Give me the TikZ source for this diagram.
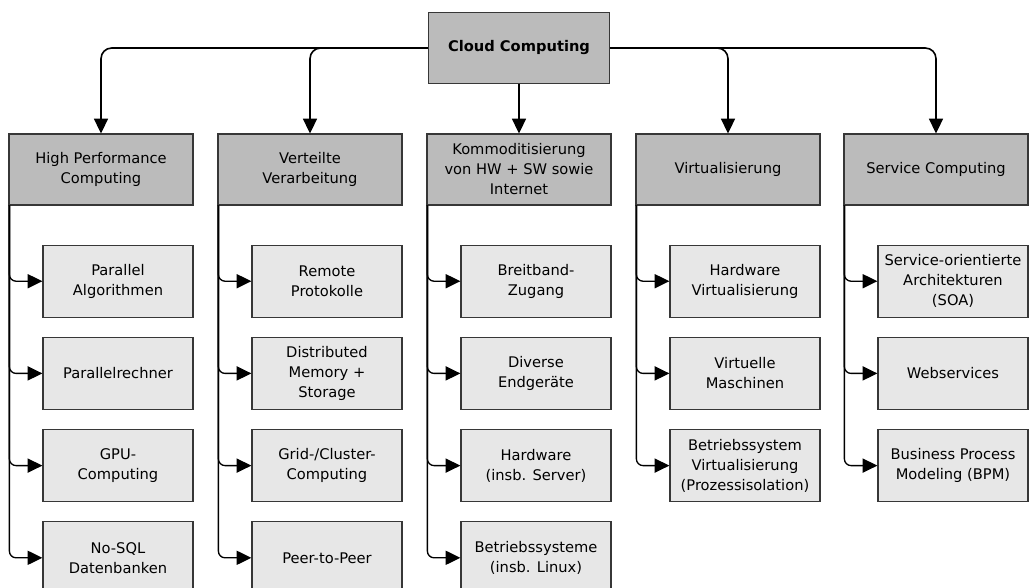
\documentclass[tikz,border=0pt]{standalone}
\usepackage{fontspec}
\setmainfont{DejaVu Sans}
\usepackage{xcolor}
\usepackage{tikz}
\usetikzlibrary{arrows.meta,positioning}
\definecolor{rim}{RGB}{55,55,55}
\definecolor{topgray}{RGB}{187,187,187}
\definecolor{subgray}{RGB}{231,231,231}
\tikzset{
  rootbox/.style={draw=rim, line width=0.9pt, fill=topgray, align=center,
    minimum width=135.75pt, minimum height=53.25pt, font=\fontsize{11}{15}\selectfont\bfseries},
  catbox/.style={draw=rim, line width=0.9pt, fill=topgray, align=center,
    minimum width=138pt, minimum height=53.25pt, font=\fontsize{11}{15}\selectfont},
  subbox/.style={draw=rim, line width=0.9pt, fill=subgray, align=center,
    minimum width=112.5pt, minimum height=54pt, font=\fontsize{11}{15}\selectfont},
  % Verbindungen
  branch/.style={draw=black, line width=1.2pt, rounded corners=8pt,
    -{Triangle[length=11pt,width=10.5pt]}},
  leaf/.style={draw=black, line width=1pt, rounded corners=5pt,
    -{Triangle[length=11pt,width=10.5pt]}}
}
\begin{document}
\begin{tikzpicture}[x=0.75pt, y=-0.75pt]
  \useasboundingbox (0,0) rectangle (1033,587);
  \node[rootbox] (root) at (519,48) {Cloud Computing};
  % Kategorien
  \node[catbox] (hpc) at (101,169.5) {High Performance\\Computing};
  \node[catbox] (vv) at (310,169.5) {Verteilte\\Verarbeitung};
  \node[catbox] (kom) at (519,169.5) {Kommoditisierung\\von HW + SW sowie\\Internet};
  \node[catbox] (virt) at (728,169.5) {Virtualisierung};
  \node[catbox] (svc) at (936,169.5) {Service Computing};
  \draw[branch] (root.west) -| (hpc.north);
  \draw[branch] (root.west) -| (vv.north);
  \draw[branch] (root.south) -- (kom.north);
  \draw[branch] (root.east) -| (virt.north);
  \draw[branch] (root.east) -| (svc.north);
  % High Performance Computing
  \node[subbox, below left=29.25pt and 0pt of hpc.south east] (hpc1) {Parallel\\Algorithmen};
  \node[subbox, below=14.25pt of hpc1] (hpc2) {Parallelrechner};
  \node[subbox, below=14.25pt of hpc2] (hpc3) {GPU-\\Computing};
  \node[subbox, below=14.25pt of hpc3] (hpc4) {No-SQL\\Datenbanken};
  % Verteilte Verarbeitung
  \node[subbox, below left=29.25pt and 0pt of vv.south east] (vv1) {Remote\\Protokolle};
  \node[subbox, below=14.25pt of vv1] (vv2) {Distributed\\Memory +\\Storage};
  \node[subbox, below=14.25pt of vv2] (vv3) {Grid-/Cluster-\\Computing};
  \node[subbox, below=14.25pt of vv3] (vv4) {Peer-to-Peer};
  % Kommoditisierung
  \node[subbox, below left=29.25pt and 0pt of kom.south east] (kom1) {Breitband-\\Zugang};
  \node[subbox, below=14.25pt of kom1] (kom2) {Diverse\\Endgeräte};
  \node[subbox, below=14.25pt of kom2] (kom3) {Hardware\\(insb. Server)};
  \node[subbox, below=14.25pt of kom3] (kom4) {Betriebssysteme\\(insb. Linux)};
  % Virtualisierung
  \node[subbox, below left=29.25pt and 0pt of virt.south east] (virt1) {Hardware\\Virtualisierung};
  \node[subbox, below=14.25pt of virt1] (virt2) {Virtuelle\\Maschinen};
  \node[subbox, below=14.25pt of virt2] (virt3) {Betriebssystem\\Virtualisierung\\(Prozessisolation)};
  % Service Computing
  \node[subbox, below left=29.25pt and 0pt of svc.south east] (svc1) {Service-orientierte\\Architekturen\\(SOA)};
  \node[subbox, below=14.25pt of svc1] (svc2) {Webservices};
  \node[subbox, below=14.25pt of svc2] (svc3) {Business Process\\Modeling (BPM)};
  % Zweige
  \draw[leaf] ([xshift=0.75pt]hpc.south west) |- (hpc1.west);
  \draw[leaf] ([xshift=0.75pt]hpc.south west) |- (hpc2.west);
  \draw[leaf] ([xshift=0.75pt]hpc.south west) |- (hpc3.west);
  \draw[leaf] ([xshift=0.75pt]hpc.south west) |- (hpc4.west);
  \draw[leaf] ([xshift=0.75pt]vv.south west) |- (vv1.west);
  \draw[leaf] ([xshift=0.75pt]vv.south west) |- (vv2.west);
  \draw[leaf] ([xshift=0.75pt]vv.south west) |- (vv3.west);
  \draw[leaf] ([xshift=0.75pt]vv.south west) |- (vv4.west);
  \draw[leaf] ([xshift=0.75pt]kom.south west) |- (kom1.west);
  \draw[leaf] ([xshift=0.75pt]kom.south west) |- (kom2.west);
  \draw[leaf] ([xshift=0.75pt]kom.south west) |- (kom3.west);
  \draw[leaf] ([xshift=0.75pt]kom.south west) |- (kom4.west);
  \draw[leaf] ([xshift=0.75pt]virt.south west) |- (virt1.west);
  \draw[leaf] ([xshift=0.75pt]virt.south west) |- (virt2.west);
  \draw[leaf] ([xshift=0.75pt]virt.south west) |- (virt3.west);
  \draw[leaf] ([xshift=0.75pt]svc.south west) |- (svc1.west);
  \draw[leaf] ([xshift=0.75pt]svc.south west) |- (svc2.west);
  \draw[leaf] ([xshift=0.75pt]svc.south west) |- (svc3.west);
\end{tikzpicture}
\end{document}
